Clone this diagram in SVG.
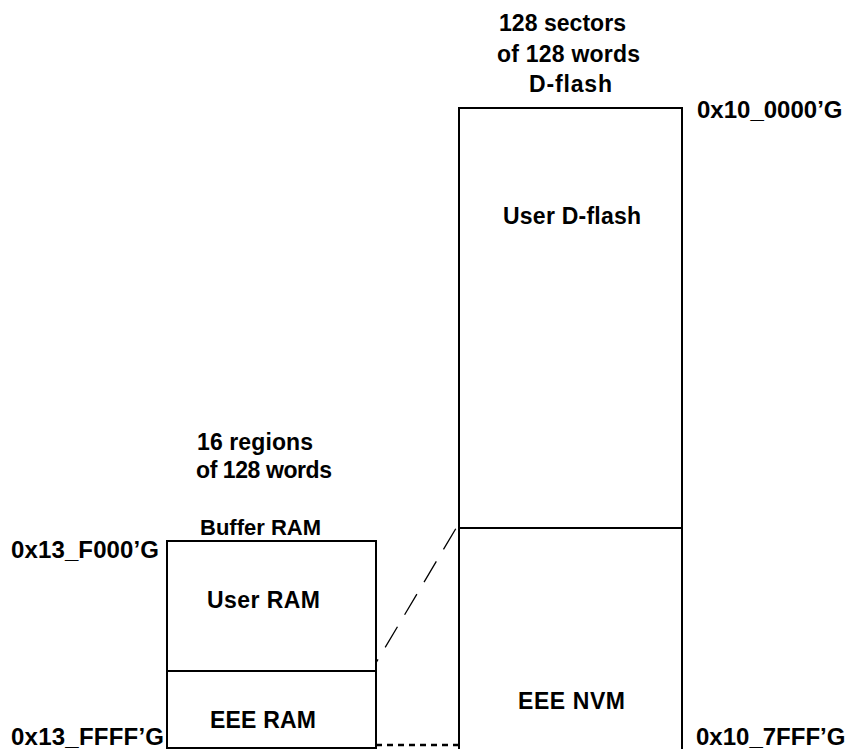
<svg xmlns="http://www.w3.org/2000/svg" width="849" height="749" viewBox="0 0 849 749">
<style>
text{font-family:"Liberation Sans",Arial,sans-serif;font-weight:bold;font-size:23px;fill:#000}
.h{font-size:24px}
.box{fill:none;stroke:#000;stroke-width:2}
</style>
<rect width="849" height="749" fill="#fff"/>
<g id="dflash">
<path class="box" d="M459,749 V108 H682 V749"/>
<text x="499" y="30.5" textLength="127">128 sectors</text>
<text x="497" y="61.5" textLength="143">of 128 words</text>
<text x="529" y="92" textLength="83">D-flash</text>
<text class="h" x="697" y="118">0x10_0000’G</text>
</g>
<g id="user-dflash">
<text x="503" y="224" textLength="138">User D-flash</text>
</g>
<g id="eee-nvm">
<path class="box" d="M459,528 H682"/>
<text x="518" y="709" textLength="107">EEE NVM</text>
<text class="h" x="696" y="745">0x10_7FFF’G</text>
</g>
<g id="buffer-ram">
<rect class="box" x="167" y="541" width="209" height="207"/>
<text x="197" y="450" textLength="116">16 regions</text>
<text x="196" y="478" textLength="136">of 128 words</text>
<text x="200" y="535" style="font-size:22px">Buffer RAM</text>
<text class="h" x="11" y="558" textLength="148">0x13_F000’G</text>
</g>
<g id="user-ram">
<text x="207" y="608" textLength="113">User RAM</text>
</g>
<g id="eee-ram">
<path class="box" d="M167,671 H376"/>
<text x="210" y="728" textLength="106">EEE RAM</text>
<text class="h" x="11" y="745" textLength="153">0x13_FFFF’G</text>
</g>
<g id="connectors">
<line x1="376.5" y1="662" x2="458" y2="525" stroke="#000" stroke-width="1.3" stroke-dasharray="3,14,24,14,24,14,24,14,24,14,24,14"/>
<line x1="376" y1="745" x2="459" y2="745" stroke="#000" stroke-width="2.5" stroke-dasharray="6,5"/>
</g>
</svg>
